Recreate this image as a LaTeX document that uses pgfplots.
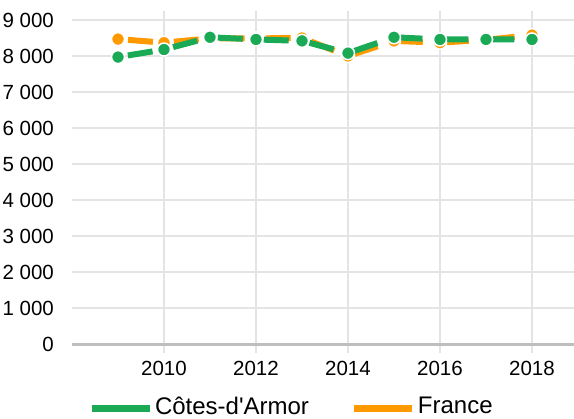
\documentclass[border=0pt]{standalone}
\usepackage{fontspec}
\setmainfont{Liberation Sans}
\usepackage{pgfplots}
\pgfplotsset{compat=1.18}
\definecolor{dgreen}{RGB}{26,170,85}
\definecolor{dorange}{RGB}{255,153,0}
\definecolor{gridgray}{RGB}{228,228,228}
\definecolor{axisgray}{RGB}{190,190,190}

\begin{document}
\begin{tikzpicture}
\useasboundingbox (-72bp,-75bp) rectangle (502bp,344bp);
\begin{axis}[
    scale only axis, width=502bp, height=324bp,
    at={(0,0)}, anchor=south west,
    xmin=2008, xmax=2018.913, ymin=0, ymax=9000,
    clip=false,
    axis line style={draw=none},
    font=\fontsize{20.5bp}{24bp}\selectfont,
    /pgf/number format/assume math mode=true,
    xtick={2010,2012,2014,2016,2018},
    xticklabels={2010,2012,2014,2016,2018},
    ytick={0,1000,...,9000},
    yticklabels={0,1 000,2 000,3 000,4 000,5 000,6 000,7 000,8 000,9 000},
    grid=major,
    major grid style={gridgray, line width=2bp},
    tick align=outside,
    major tick length=9bp,
    xtick style={gridgray, line width=2bp},
    ytick style={draw=none},
    xticklabel style={inner sep=0pt, anchor=north, yshift=-8bp},
    yticklabel style={inner sep=0pt, anchor=east, xshift=-9bp},
    legend columns=2,
    reverse legend,
    legend style={at={(0.437,-0.192)}, anchor=center, draw=none, fill=none,
        font=\fontsize{24bp}{28bp}\selectfont,
        /tikz/every even column/.append style={column sep=40bp}},
    legend image code/.code={\draw[solid, line width=7bp] (0bp,-2bp) -- (58bp,-2bp);},
    every axis plot/.append style={line width=6bp, dash pattern=on 25bp off 21bp, dash phase=36bp},
]
\draw[axisgray, line width=3bp] (axis cs:2008,0) -- (axis cs:2018.913,0);
\addplot[dorange, mark=*, mark size=6.5bp,
    mark options={solid, fill=dorange, draw=white, line width=1.5bp}] coordinates {
    (2009,8470) (2010,8370) (2011,8490) (2012,8490) (2013,8500)
    (2014,8000) (2015,8420) (2016,8370) (2017,8450) (2018,8580)
};
\addlegendentry{France}
\addplot[dgreen, mark=*, mark size=6.5bp,
    mark options={solid, fill=dgreen, draw=white, line width=1.5bp}] coordinates {
    (2009,7970) (2010,8180) (2011,8520) (2012,8460) (2013,8420)
    (2014,8080) (2015,8520) (2016,8460) (2017,8460) (2018,8460)
};
\addlegendentry{Côtes-d\textquotesingle Armor}
\end{axis}
\end{tikzpicture}
\end{document}
